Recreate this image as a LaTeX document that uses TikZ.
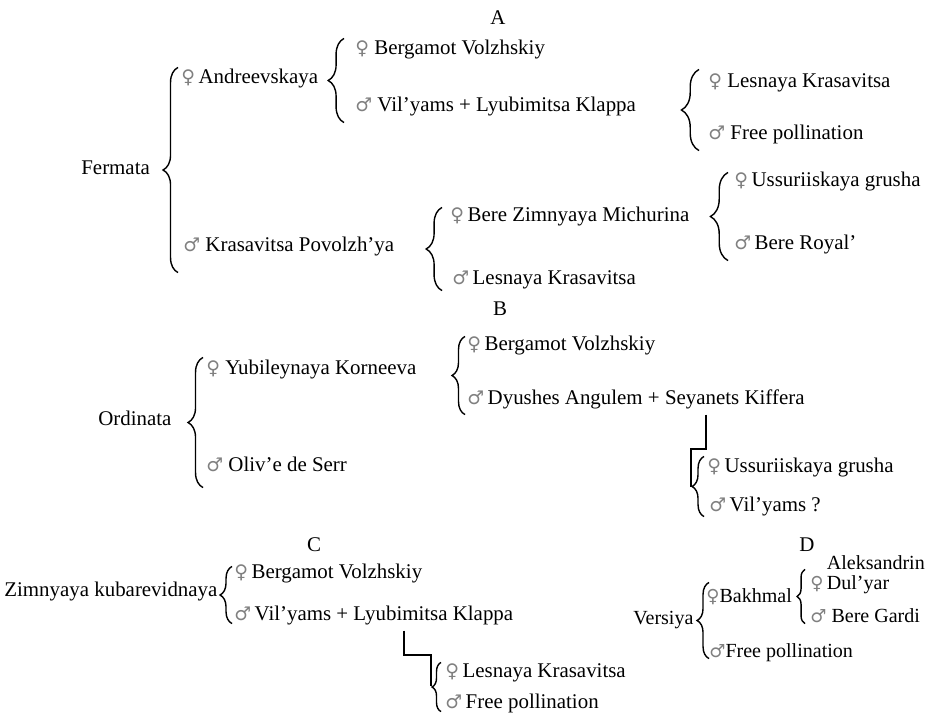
\documentclass[tikz,border=0pt]{standalone}
\usepackage{fontspec}
\setmainfont{Liberation Serif}
\newfontfamily\symfont{DejaVu Sans}[Scale=0.9]
\usetikzlibrary{decorations.pathreplacing,positioning}

\newcommand{\fem}{{\symfont\color{gray}♀}}
\newcommand{\mal}{{\symfont\color{gray}♂}}

\begin{document}
\begin{tikzpicture}[x=0.02cm, y=-0.02cm,
        every node/.style={font=\fontsize{11.9}{14}\selectfont},
        cult/.style={anchor=west, inner sep=0pt, text height=8pt, text depth=2.5pt},
        dcult/.style={cult, font=\fontsize{11.4}{13}\selectfont},
        brc/.style={decorate, decoration={brace, amplitude=#1}, line width=0.8pt},
        brc/.default=8pt,
        link/.style={line width=1pt},
    ]
    \useasboundingbox (0,0) rectangle (925,714);

    % A: Fermata
    \node (tA) at (498,18) {A};
    \node[cult] (fe) at (81,170) {Fermata};
    \node[cult] (an) at (181,79) {\fem\,Andreevskaya};
    \node[cult] (kp) at (183,247) {\mal~Krasavitsa Povolzh'ya};
    \draw[brc=8.5pt] ([shift={(-5,16)}]kp.south west) -- ([shift={(-3,-2)}]an.north west);
    \node[cult] (bv) at (355,50) {\fem~Bergamot Volzhskiy};
    \node[cult] (vl) at (355,107) {\mal~Vil'yams + Lyubimitsa Klappa};
    \draw[brc=9pt] ([shift={(-11,6)}]vl.south west) -- ([shift={(-11,-2)}]bv.north west);
    \node[cult] (lk) at (708,83) {\fem~Lesnaya Krasavitsa};
    \node[cult] (fp) at (708,135) {\mal~Free pollination};
    \draw[brc=10pt] ([shift={(-9,6)}]fp.south west) -- ([shift={(-9,-4)}]lk.north west);
    \node[cult] (bz) at (450,217) {\fem\,Bere Zimnyaya Michurina};
    \node[cult] (lk2) at (452,280) {\mal\,Lesnaya Krasavitsa};
    \draw[brc=9pt] ([shift={(-10,1)}]lk2.south west) -- ([shift={(-8,0)}]bz.north west);
    \node[cult] (ug) at (734,182) {\fem\,Ussuriiskaya grusha};
    \node[cult] (br) at (734,245) {\mal\,Bere Royal'};
    \draw[brc=10pt] ([shift={(-6,6)}]br.south west) -- ([shift={(-6,0)}]ug.north west);

    % B: Ordinata
    \node (tB) at (500,309) {B};
    \node[cult] (or) at (98,421) {Ordinata};
    \node[cult] (yk) at (206,370) {\fem~Yubileynaya Korneeva};
    \node[cult] (os) at (206,467) {\mal~Oliv'e de Serr};
    \draw[brc=8.5pt] ([shift={(-3,11)}]os.south west) -- ([shift={(-3,-3)}]yk.north west);
    \node[cult] (bv2) at (467,346) {\fem\,Bergamot Volzhskiy};
    \node[cult] (dk) at (467,400) {\mal\,Dyushes Angulem + Seyanets Kiffera};
    \draw[brc=7.4pt] ([shift={(-2,5)}]dk.south west) -- ([shift={(-2,0)}]bv2.north west);
    \node[cult] (ug2) at (707,468) {\fem\,Ussuriiskaya grusha};
    \node[cult] (vy) at (709,507) {\mal\,Vil'yams ?};
    \draw[brc=6.8pt] ([shift={(-5,0)}]vy.south west) -- ([shift={(-3,-2)}]ug2.north west);
    \coordinate (kB1) at (706,449);
    \coordinate (kB2) at (691,487);
    \draw[link] (kB1 |- dk.south) ++(0,5) -- (kB1) -| (kB2);

    % C: Zimnyaya kubarevidnaya
    \node (tC) at (314,545) {C};
    \node[cult] (zk) at (4,592) {Zimnyaya kubarevidnaya};
    \node[cult] (bv3) at (234,574) {\fem\,Bergamot Volzhskiy};
    \node[cult] (vl2) at (234,616) {\mal\,Vil'yams + Lyubimitsa Klappa};
    \draw[brc=6.8pt] ([shift={(-2,-2)}]vl2.south west) -- ([shift={(-2,2)}]bv3.north west);
    \node[cult] (lk3) at (445,673) {\fem\,Lesnaya Krasavitsa};
    \node[cult] (fp2) at (445,704) {\mal\,Free pollination};
    \draw[brc=5.1pt] ([shift={(-4,-2)}]fp2.south west) -- ([shift={(-4,-1)}]lk3.north west);
    \coordinate (kC1) at (404,655);
    \coordinate (kC2) at (431,686);
    \draw[link] (kC1 |- vl2.south) ++(0,5) -- (kC1) -| (kC2);

    % D: Versiya
    \node (tD) at (807,545) {D};
    \node[dcult] (ve) at (633,620) {Versiya};
    \node[dcult] (bk) at (706,598) {\fem Bakhmal};
    \node[dcult] (fp3) at (709,653) {\mal Free pollination};
    \draw[brc=6.8pt] ([shift={(0,-4)}]fp3.south west) -- ([shift={(3,-6)}]bk.north west);
    \node[anchor=base west, inner sep=0pt, font=\fontsize{11.4}{13}\selectfont] (ad) at (810,589)
        {\fem\,\def\arraystretch{0.78}\begin{tabular}[b]{@{}l@{}}Aleksandrin\\Dul'yar\end{tabular}};
    \node[dcult] (bg) at (810,618) {\mal~Bere Gardi};
    \draw[brc=4.5pt] ([shift={(-5,-4)}]bg.south west) -- ([shift={(-5,-39)}]bg.north west);
\end{tikzpicture}
\end{document}
